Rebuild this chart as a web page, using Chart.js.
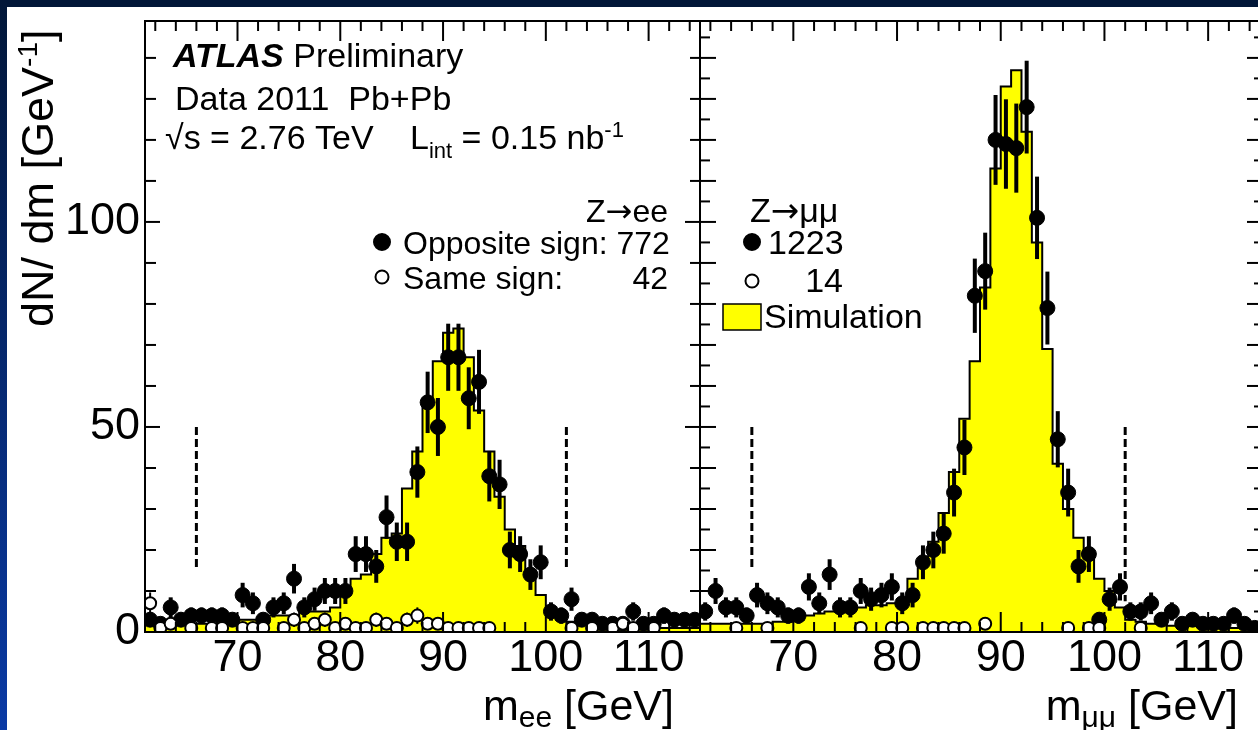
<!DOCTYPE html>
<html><head><meta charset="utf-8">
<script src="https://cdn.jsdelivr.net/npm/chart.js@4.4.1/dist/chart.umd.min.js"></script>
<style>
html,body{margin:0;padding:0;width:1258px;height:730px;overflow:hidden;background:#fff;}
#topbar{position:absolute;left:0;top:0;width:1258px;height:7px;background:#011638;}
#leftbar{position:absolute;left:0;top:0;width:7px;height:730px;background:linear-gradient(#011638,#0a3aa5);}
#c1{position:absolute;left:0;top:0;}
#c2{position:absolute;left:690px;top:0;}
</style></head><body>
<canvas id="c1" width="710" height="730"></canvas>
<canvas id="c2" width="580" height="730"></canvas>
<div id="topbar"></div><div id="leftbar"></div>
<script>
const FONT = '"Liberation Sans", Arial, Helvetica, sans-serif';
const SYMFONT = '"DejaVu Sans", sans-serif';
Chart.defaults.font.family = FONT;
Chart.defaults.color = '#000';

// bin centres (GeV), 1 GeV bins
const massBins = [61.5,62.5,63.5,64.5,65.5,66.5,67.5,68.5,69.5,70.5,71.5,72.5,73.5,74.5,75.5,76.5,77.5,78.5,79.5,80.5,
  81.5,82.5,83.5,84.5,85.5,86.5,87.5,88.5,89.5,90.5,91.5,92.5,93.5,94.5,95.5,96.5,97.5,98.5,99.5,100.5,
  101.5,102.5,103.5,104.5,105.5,106.5,107.5,108.5,109.5,110.5,111.5,112.5,113.5,114.5];

// tick labels
const xTickValues = [70, 80, 90, 100, 110];
const yTickValues = [0, 50, 100];

// Z -> ee
const eeOpposite = [3,2,6,3,4, 4,4,4,3,9, 7,3,6,7,13, 6,8,10,10,10, 19,19,16,28,22, 22,39,56,50,67,
  67,57,61,38,36, 20,19,14,17,5, 4,8,3,3,2, 2,2,5,2,2, 4,3,3,3];
const eeSame = [7,1,2,0,1, 0,1,1,0,1, 1,1,0,1,3, 1,2,3,1,2, 1,1,3,2,1, 3,4,2,2,1,
  1,1,1,1,0, 0,0,0,0,0, 0,1,0,1,0, 1,2,1,0,1, 0,0,0,0];
const eeSim = [2,2,2,2,2, 2,2,3,3,3, 3,3,4,4,4, 5,5,5,6,9, 13,14,19,23,24, 35,44,56,66,73,
  74,67,54,44,33, 25,21,15,9,6, 3,2.5,2,2,1.5, 1.5,1.5,1.5,1,1, 1,1,1,1];

// Z -> mumu
const mmOpposite = [5,10,6,6,4, 9,7,6,4,4, 11,7,14,6,6, 10,8,9,11,7, 9,17,20,24,34, 45,82,88,120,119,
  118,128,101,79,47, 34,16,19,3,8, 11,5,5,7,3, 5,2,3,2,2, 2,4,2,1];
const mmSame = [0,0,0,1,0, 0,1,0,0,0, 0,0,0,0,0, 1,0,0,1,1, 0,1,1,1,1, 1,0,2,0,0,
  0,0,0,0,0, 1,0,1,1,0, 0,0,1,0,0, 0,0,0,0,0, 0,0,0,0];
const mmSim = [2,2,2,2,2, 2,2,2.5,2.5,3, 4,4.5,5,5,5.5, 6,6.5,6.5,7,8, 13,17,22,29,39, 52,66,84,113,133,
  137,122,95,69,41, 30,23,18,13,10, 6,3,2.5,2,2, 1.5,1.5,1.5,1.5,1, 1,1,1,1];

// mass window (GeV) and the value range of the dashed markers
const windowEdges = [66, 102];
const eeDashRange = [[15, 50], [15, 50]];
const mmDashRange = [[15, 50], [7.5, 50]];

const xRange = [61, 115];
const yRange = [0, 149];

function pointsOf(values) {
  return massBins.map((m, i) => values[i] > 0 ? {x: m, y: values[i]} : null).filter(Boolean);
}
function histOf(values) {
  const p = massBins.map((m, i) => ({x: m - 0.5, y: values[i]}));
  p.push({x: massBins[massBins.length - 1] + 0.5, y: values[values.length - 1]});
  return p;
}

// parts: [text, size, dy, style, family]
function drawRich(ctx, x, y, parts, align) {
  let total = 0;
  const fontOf = p => `${p[3] || ''} ${p[1]}px ${p[4] || FONT}`;
  const widths = parts.map(p => {
    ctx.font = fontOf(p);
    const w = ctx.measureText(p[0]).width; total += w; return w;
  });
  let cx = align === 'right' ? x - total : (align === 'center' ? x - total / 2 : x);
  ctx.textAlign = 'left'; ctx.textBaseline = 'alphabetic'; ctx.fillStyle = '#000';
  parts.forEach((p, i) => {
    ctx.font = fontOf(p);
    ctx.fillText(p[0], cx, y + (p[2] || 0));
    cx += widths[i];
  });
  return total;
}

const errorBars = {
  id: 'errorBars',
  afterDatasetDraw(chart, args) {
    if (args.index !== 0) return;
    const {ctx, chartArea: a, scales: {x, y}} = chart;
    ctx.save();
    ctx.beginPath(); ctx.rect(a.left, a.top, a.right - a.left, a.bottom - a.top); ctx.clip();
    ctx.strokeStyle = '#000';
    [1, 2].forEach(di => {
      ctx.lineWidth = di === 1 ? 4 : 2;
      chart.data.datasets[di].data.forEach(p => {
        const e = Math.sqrt(p.y);
        const px = x.getPixelForValue(p.x);
        ctx.beginPath();
        ctx.moveTo(px, y.getPixelForValue(p.y - e));
        ctx.lineTo(px, y.getPixelForValue(p.y + e));
        ctx.stroke();
      });
    });
    ctx.restore();
  }
};

function frameAndTicks(chart, spec) {
  const {ctx, chartArea: a, scales: {x, y}} = chart;
  ctx.save();
  ctx.strokeStyle = '#000'; ctx.lineWidth = 2;
  const seg = (x1, y1, x2, y2) => { ctx.beginPath(); ctx.moveTo(x1, y1); ctx.lineTo(x2, y2); ctx.stroke(); };
  for (let m = 62; m <= 114; m += 2) {
    const px = x.getPixelForValue(m);
    const L = m % 10 === 0 ? 20 : 10;
    seg(px, a.bottom, px, a.bottom - L);
    seg(px, a.top, px, a.top + L);
  }
  [['left', a.left, 1], ['right', a.right, -1]].forEach(([side, x0, dir]) => {
    const s = spec[side];
    for (let v = 0; v <= yRange[1]; v += s.minor) {
      const py = y.getPixelForValue(v);
      const L = (v % s.major === 0) ? s.lenMajor : s.lenMinor;
      seg(x0, py, x0 + dir * L, py);
    }
  });
  ctx.strokeRect(a.left, a.top, a.right - a.left, a.bottom - a.top);
  ctx.restore();
}

function dashes(chart, ranges) {
  const {ctx, scales: {x, y}} = chart;
  ctx.save();
  ctx.strokeStyle = '#000'; ctx.lineWidth = 3; ctx.setLineDash([8, 4]);
  windowEdges.forEach((m, i) => {
    const px = x.getPixelForValue(m);
    ctx.beginPath();
    ctx.moveTo(px, y.getPixelForValue(ranges[i][1]));
    ctx.lineTo(px, y.getPixelForValue(ranges[i][0]));
    ctx.stroke();
  });
  ctx.restore();
}

function marker(ctx, x, y, r, filled) {
  ctx.save();
  ctx.beginPath(); ctx.arc(x, y, r, 0, Math.PI * 2);
  ctx.fillStyle = filled ? '#000' : '#fff'; ctx.fill();
  ctx.lineWidth = 2; ctx.strokeStyle = '#000'; ctx.stroke();
  ctx.restore();
}

function datasetsFor(opp, same, sim) {
  return [
    {type: 'line', label: 'Simulation', data: histOf(sim), stepped: true, fill: 'origin',
     backgroundColor: '#ffff00', borderColor: '#000', borderWidth: 2, pointRadius: 0, order: 3, clip: 0},
    {type: 'scatter', label: 'Opposite sign', data: pointsOf(opp), pointRadius: 7.5,
     backgroundColor: '#000', borderColor: '#000', borderWidth: 1, order: 2, clip: 0},
    {type: 'scatter', label: 'Same sign', data: pointsOf(same), pointRadius: 6,
     backgroundColor: '#fff', borderColor: '#000', borderWidth: 2, order: 1, clip: 0}
  ];
}

function baseOptions(showY, pad) {
  return {
    responsive: false, animation: false, devicePixelRatio: 1, events: [],
    layout: {padding: pad},
    plugins: {legend: {display: false}, tooltip: {enabled: false}},
    scales: {
      x: {type: 'linear', min: xRange[0], max: xRange[1],
          ticks: {padding: 0, color: '#000', font: {size: 45, lineHeight: 1.2}, maxRotation: 0, autoSkip: false},
          afterBuildTicks(s) { s.ticks = xTickValues.map(v => ({value: v})); },
          grid: {display: false, drawTicks: false}, border: {display: false},
          afterFit(s) { s.height = 98; }},
      y: {type: 'linear', display: showY, min: yRange[0], max: yRange[1],
          ticks: {padding: 5, color: '#000', font: {size: 45, lineHeight: 0.5}, autoSkip: false},
          afterBuildTicks(s) { s.ticks = yTickValues.map(v => ({value: v})); },
          grid: {display: false, drawTicks: false}, border: {display: false},
          afterFit(s) { s.width = showY ? 145 : 0; }}
    }
  };
}

// ---------- left panel: Z -> ee ----------
const eeDecor = {
  id: 'eeDecor',
  afterDraw(chart) {
    const ctx = chart.ctx;
    dashes(chart, eeDashRange);
    frameAndTicks(chart, {
      left: {major: 50, minor: 10, lenMajor: 15, lenMinor: 11},
      right: {major: 50, minor: 10, lenMajor: 15, lenMinor: 10}
    });
    drawRich(ctx, 173, 67, [['ATLAS', 34, 0, 'italic bold'], [' Preliminary', 34]]);
    drawRich(ctx, 175, 110, [['Data 2011  Pb+Pb', 34]]);
    drawRich(ctx, 165, 149, [['\u221As = 2.76 TeV', 34]]);
    drawRich(ctx, 410, 149, [['L', 34], ['int', 22, 9], [' = 0.15 nb', 34], ['-1', 22, -12]]);
    drawRich(ctx, 668, 222, [['Z', 32], ['\u2192', 32, 0, '', SYMFONT], ['ee', 32]], 'right');
    marker(ctx, 382, 242, 8, true);
    drawRich(ctx, 403, 254, [['Opposite sign: 772', 32]]);
    marker(ctx, 382, 277, 6.5, false);
    drawRich(ctx, 403, 289, [['Same sign:', 32]]);
    drawRich(ctx, 668, 289, [['42', 32]], 'right');
    drawRich(ctx, 674, 720, [['m', 43], ['ee', 30, 7], [' [GeV]', 43]], 'right');
    ctx.save();
    ctx.translate(53, 327); ctx.rotate(-Math.PI / 2);
    drawRich(ctx, 0, 0, [['dN/ dm [GeV', 45], ['-1', 28, -16], [']', 45]]);
    ctx.restore();
  }
};

new Chart(document.getElementById('c1'), {
  type: 'scatter',
  data: {datasets: datasetsFor(eeOpposite, eeSame, eeSim)},
  options: baseOptions(true, {left: 0, right: 10, top: 21, bottom: 0}),
  plugins: [errorBars, eeDecor]
});

// ---------- right panel: Z -> mumu ----------
const OX = 690;
const mmDecor = {
  id: 'mmDecor',
  afterDraw(chart) {
    const ctx = chart.ctx;
    dashes(chart, mmDashRange);
    frameAndTicks(chart, {
      left: {major: 10, minor: 5, lenMajor: 16, lenMinor: 10},
      right: {major: 10, minor: 5, lenMajor: 13, lenMinor: 6}
    });
    drawRich(ctx, 750 - OX, 222, [['Z', 34], ['\u2192', 34, 0, '', SYMFONT], ['\u03BC\u03BC', 34]]);
    marker(ctx, 752 - OX, 242, 8, true);
    drawRich(ctx, 768 - OX, 254, [['1223', 34]]);
    marker(ctx, 752 - OX, 281, 6.5, false);
    drawRich(ctx, 843 - OX, 292, [['14', 34]], 'right');
    ctx.save();
    ctx.fillStyle = '#ffff00'; ctx.fillRect(723 - OX, 304, 38, 26);
    ctx.lineWidth = 1.5; ctx.strokeStyle = '#000'; ctx.strokeRect(723 - OX, 304, 38, 26);
    ctx.restore();
    drawRich(ctx, 764 - OX, 328, [['Simulation', 34]]);
    drawRich(ctx, 1238 - OX, 720, [['m', 43], ['\u03BC\u03BC', 30, 7], [' [GeV]', 43]], 'right');
  }
};

new Chart(document.getElementById('c2'), {
  type: 'scatter',
  data: {datasets: datasetsFor(mmOpposite, mmSame, mmSim)},
  options: baseOptions(false, {left: 10, right: 10, top: 21, bottom: 0}),
  plugins: [errorBars, mmDecor]
});
</script>
</body></html>
